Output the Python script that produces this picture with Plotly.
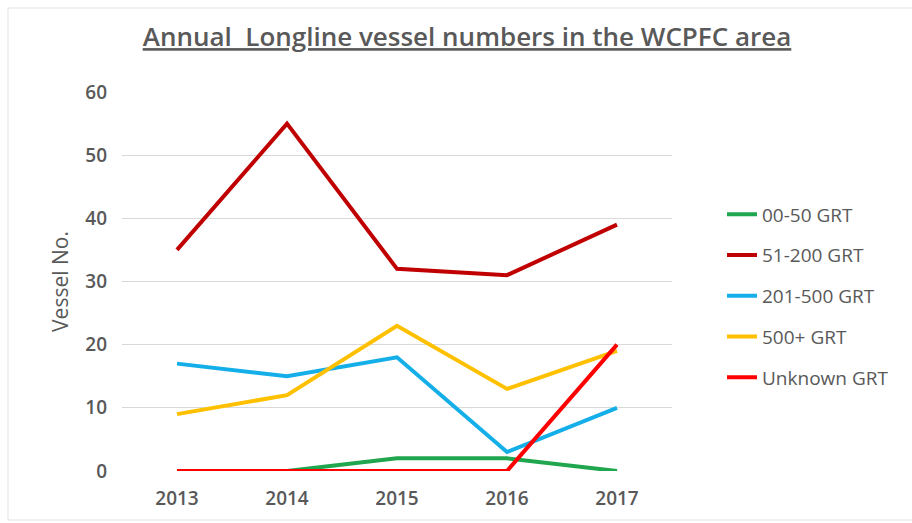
import plotly.graph_objects as go

years = ["2013", "2014", "2015", "2016", "2017"]
grt_00_50 = [0, 0, 2, 2, 0]
grt_51_200 = [35, 55, 32, 31, 39]
grt_201_500 = [17, 15, 18, 3, 10]
grt_500_plus = [9, 12, 23, 13, 19]
grt_unknown = [0, 0, 0, 0, 20]

series = [
    ("00-50 GRT", grt_00_50, "#1fa64e"),
    ("51-200 GRT", grt_51_200, "#c00000"),
    ("201-500 GRT", grt_201_500, "#14aee8"),
    ("500+ GRT", grt_500_plus, "#ffc000"),
    ("Unknown GRT", grt_unknown, "#ff0000"),
]

FONT = "Open Sans"
GREY = "#595959"

fig = go.Figure()
for i, (name, vals, col) in enumerate(series):
    fig.add_trace(go.Scatter(
        x=years, y=vals, name=name, mode="lines",
        line=dict(color=col, width=4),
        legendgroup=f"g{i}",
    ))

W, H = 912, 523
L, R, T, B = 122, 240, 92, 52
PW, PH = W - L - R, H - T - B

fig.update_layout(
    width=W, height=H,
    margin=dict(l=L, r=R, t=T, b=B),
    paper_bgcolor="white", plot_bgcolor="white",
    title=dict(
        text="<span style='text-decoration:underline'>Annual  Longline vessel numbers in the WCPFC area</span>",
        x=467 / W, xanchor="center", xref="container",
        y=1 - 37 / H, yanchor="middle", yref="container",
        font=dict(family=FONT, size=26, color=GREY, weight=600),
    ),
    xaxis=dict(
        type="category", range=[-0.5, 4.5],
        showgrid=False, zeroline=False, showline=False,
        ticks="", tickfont=dict(family=FONT, size=19, color=GREY, weight=600),
        ticklabelstandoff=14,
    ),
    yaxis=dict(
        range=[0, 60], dtick=10, showgrid=True, gridcolor="#d9d9d9", gridwidth=1,
        zeroline=False, showline=False, ticks="",
        tickfont=dict(family=FONT, size=19, color=GREY, weight=600),
        ticklabelstandoff=14,
        title=dict(text="Vessel No.", font=dict(family=FONT, size=21, color=GREY), standoff=10),
    ),
    legend=dict(
        x=722 / W, xref="container", xanchor="left",
        y=1 - 296 / H, yref="container", yanchor="middle",
        font=dict(family=FONT, size=19, color=GREY),
        tracegroupgap=13, bgcolor="rgba(0,0,0,0)",
    ),
    showlegend=True,
)

# faint chart frame (top, left, bottom)
fx0 = (8 - L) / PW
fx1 = (W + 20 - L) / PW
fy_top = 1 - (8 - T) / PH
fy_bot = 1 - (520 - T) / PH
for x0, y0, x1, y1 in [(fx0, fy_top, fx1, fy_top), (fx0, fy_bot, fx0, fy_top), (fx0, fy_bot, fx1, fy_bot)]:
    fig.add_shape(type="line", xref="paper", yref="paper", x0=x0, y0=y0, x1=x1, y1=y1,
                  line=dict(color="#e3e3e3", width=1), layer="below")

fig.write_html("out.html")
